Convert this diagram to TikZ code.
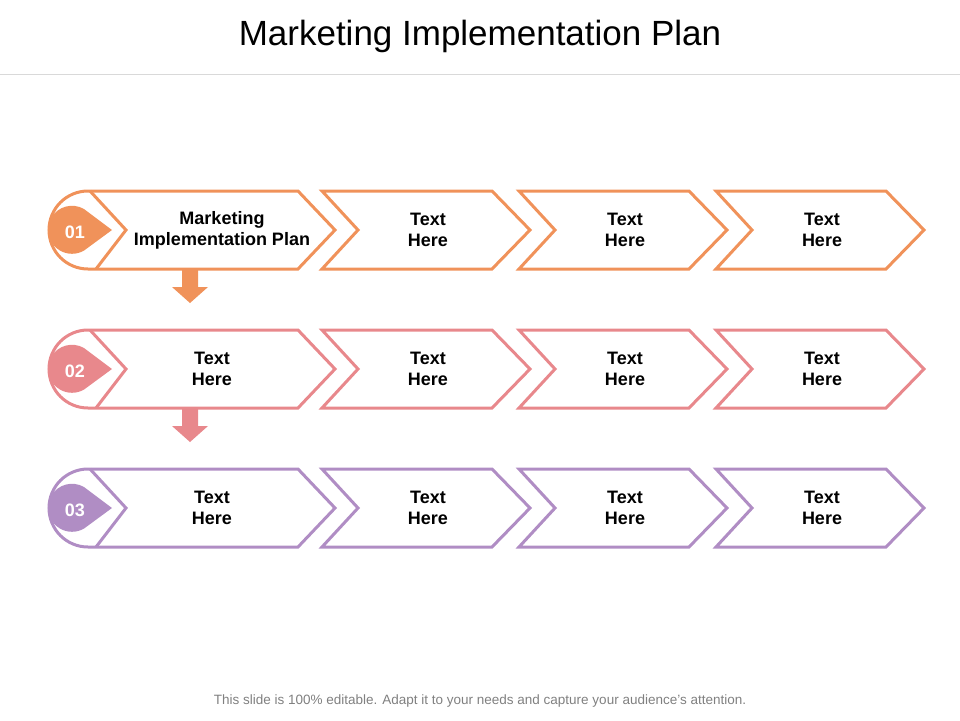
\documentclass[tikz,border=0pt]{standalone}
\usepackage{fontspec}
\setmainfont{Liberation Sans}
\begin{document}
\begin{tikzpicture}[x=1pt,y=-1pt,
  shp/.style={line width=3pt,line join=miter},
  lbl/.style={font=\bfseries\fontsize{18}{21}\selectfont,align=center,text=black},
  num/.style={font=\bfseries\fontsize{18}{21}\selectfont,text=white}]
\useasboundingbox (0,0) rectangle (960,720);
\node (title) at (480,36) {\fontsize{35}{40}\selectfont Marketing Implementation Plan};
\draw[gray!30,line width=1pt] (0,74) -- (960,74);
\node (foot) at (480,701) {\color{gray}\fontsize{13.5}{15}\selectfont This slide is 100\% editable. Adapt it to your needs and capture your audience's attention.};
\definecolor{cA}{HTML}{F0925A}
\definecolor{cB}{HTML}{E8888C}
\definecolor{cC}{HTML}{B08DC4}
\foreach \c/\y/\n in {cA/230/01,cB/369/02,cC/508/03}{
  \draw[shp,\c] (88,\y-39) -- (298,\y-39) -- (335,\y) -- (298,\y+39) -- (88,\y+39)
     arc[start angle=90,end angle=270,radius=39] ;
  \draw[shp,\c] (90,\y-39) -- (126,\y) -- (96,\y+39);
  \fill[\c] (112,\y) -- (84,\y-21) arc[start angle=-60,end angle=-300,radius=24] -- cycle;
  \node[num] (n\n) at (75,\y+2) {\n};
  \foreach \k in {0,1,2}{
    \draw[shp,\c] (322+197*\k,\y-39) -- (492+197*\k,\y-39) -- (530+197*\k,\y)
       -- (492+197*\k,\y+39) -- (322+197*\k,\y+39) -- (358+197*\k,\y) -- cycle;
    \node[lbl] (t\n\k) at (428+197*\k,\y) {Text\\Here};
  }
}
\node[lbl] (m1) at (222,230) {Marketing\\Implementation Plan};
\node[lbl] (m2) at (212,369) {Text\\Here};
\node[lbl] (m3) at (212,508) {Text\\Here};
\fill[cA] (182,270) -- (198,270) -- (198,287) -- (208,287) -- (190,303) -- (172,287) -- (182,287) -- cycle;
\fill[cB] (182,409) -- (198,409) -- (198,426) -- (208,426) -- (190,442) -- (172,426) -- (182,426) -- cycle;
\end{tikzpicture}
\end{document}
